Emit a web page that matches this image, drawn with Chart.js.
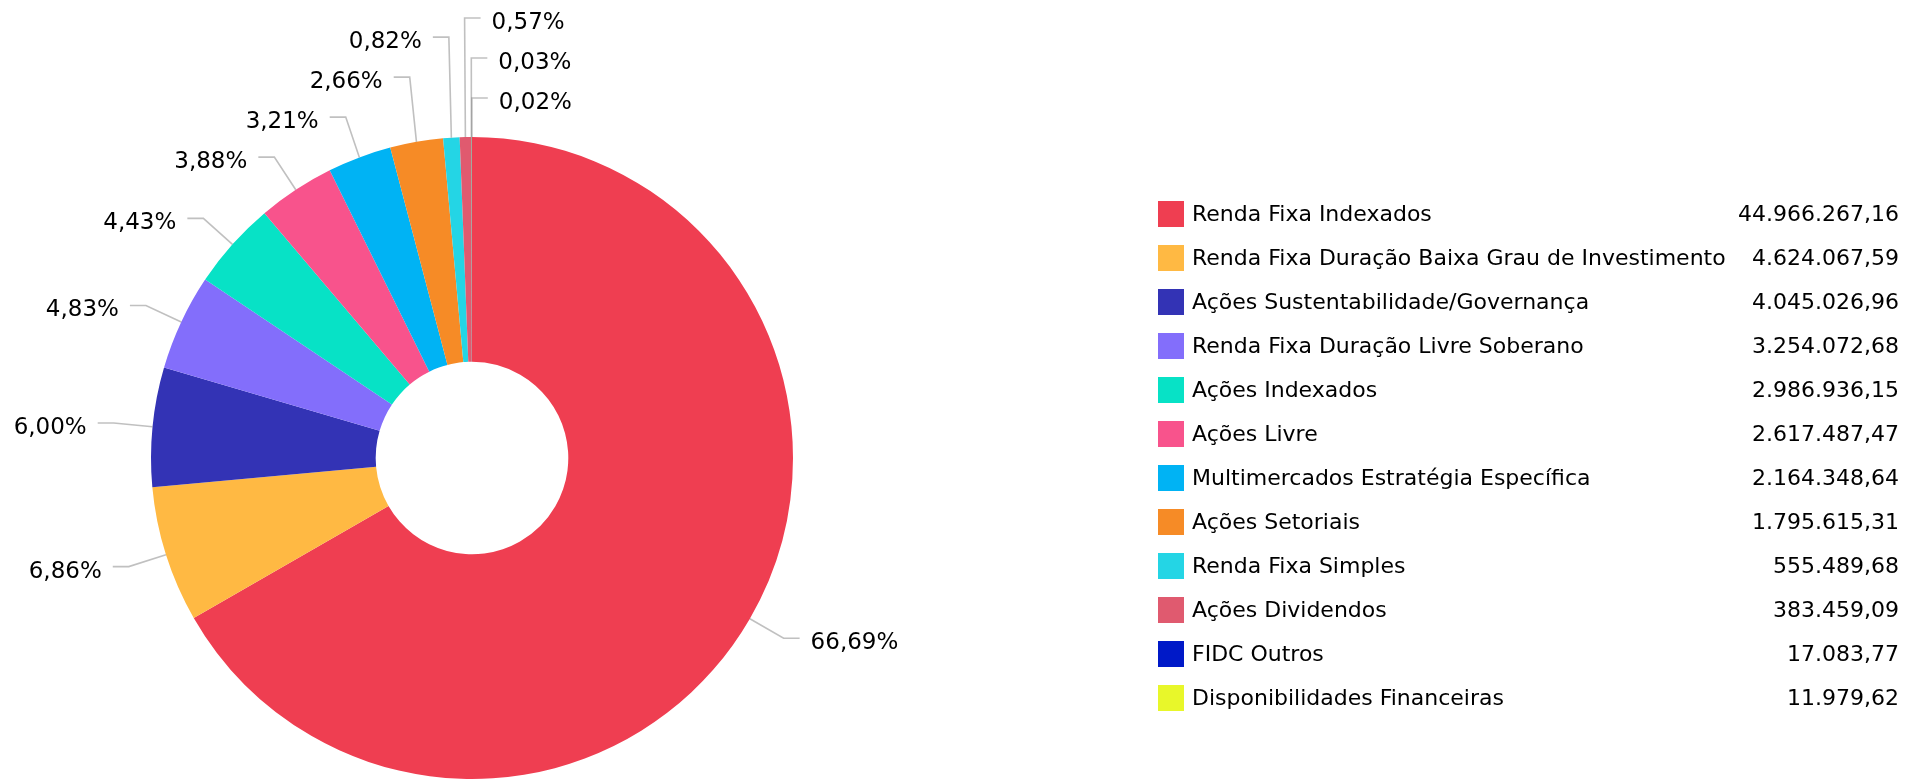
<!DOCTYPE html>
<html lang="pt-BR">
<head>
<meta charset="utf-8">
<title>Composição da carteira</title>
<script src="https://cdn.jsdelivr.net/npm/chart.js@4.4.1/dist/chart.umd.min.js"></script>
<style>
  html, body { margin: 0; padding: 0; background: #fff; }
  #wrap { width: 1928px; height: 781px; position: relative; }
</style>
</head>
<body>
<div id="wrap"><canvas id="grafico"></canvas></div>
<script>
// --- DADOS ---
const categorias = [
    "Renda Fixa Indexados",
    "Renda Fixa Duração Baixa Grau de Investimento",
    "Ações Sustentabilidade/Governança",
    "Renda Fixa Duração Livre Soberano",
    "Ações Indexados",
    "Ações Livre",
    "Multimercados Estratégia Específica",
    "Ações Setoriais",
    "Renda Fixa Simples",
    "Ações Dividendos",
    "FIDC Outros",
    "Disponibilidades Financeiras"
];
const valores = [
    44966267.16, 4624067.59, 4045026.96, 3254072.68, 2986936.15, 2617487.47,
    2164348.64, 1795615.31, 555489.68, 383459.09, 17083.77, 11979.62
];
const cores = [
    "#EF3E51", "#FFB943", "#3333B5", "#836EFB", "#07E2C6", "#F8538C",
    "#00B3F4", "#F68B26", "#24D5E5", "#E05A6F", "#0019C8", "#E8F72A"
];

// --- LAYOUT ---
const FONTE = '"DejaVu Sans", Verdana, sans-serif';
const DIST_QUEBRA = 39;     // quebra do conector, além da borda da fatia
const ESPACO_ROTULO = 40;   // distância vertical mínima entre rótulos
const PERNA = 16;           // trecho horizontal do conector
const FOLGA = 11;           // conector -> texto
const BASE_TEXTO = 11;      // linha de base do texto abaixo do conector
const VIRADA = 2 * Math.PI / 180; // fatias quase no topo vão para a direita

const LEG_X = 1158;
const LEG_TOPO = 214;
const LEG_PASSO = 44;
const LEG_DIR = 1899;

// --- UTILIDADES ---
function formatarNumero(v) {
    const [inteiro, dec] = v.toFixed(2).split('.');
    return inteiro.replace(/\B(?=(\d{3})+(?!\d))/g, '.') + ',' + dec;
}

function formatarPct(v, total) {
    return (v / total * 100).toFixed(2).replace('.', ',') + '%';
}

// empilha os rótulos de um lado, de baixo para cima
function distribuir(lista) {
    lista.sort((a, b) => a.ordem - b.ordem);
    lista.forEach(it => it.y = it.ny);
    for (let k = lista.length - 2; k >= 0; k--) {
        lista[k].y = Math.min(lista[k].y, lista[k + 1].y - ESPACO_ROTULO);
    }
}

// --- PLUGINS ---
const rotulosPlugin = {
    id: 'rotulos',
    afterDatasetsDraw(chart) {
        const ctx = chart.ctx;
        const meta = chart.getDatasetMeta(0);
        const total = valores.reduce((a, b) => a + b, 0);
        const esquerda = [], direita = [];

        meta.data.forEach((arco, i) => {
            const p = arco.getProps(['x', 'y', 'startAngle', 'endAngle', 'outerRadius'], true);
            const a = (p.startAngle + p.endAngle) / 2;
            const theta = a + Math.PI / 2; // a partir do topo, sentido horário
            const item = {
                ex: p.x + p.outerRadius * Math.cos(a),
                ey: p.y + p.outerRadius * Math.sin(a),
                nx: p.x + (p.outerRadius + DIST_QUEBRA) * Math.cos(a),
                ny: p.y + (p.outerRadius + DIST_QUEBRA) * Math.sin(a),
                texto: formatarPct(valores[i], total)
            };
            if (theta > 2 * Math.PI - VIRADA) {
                item.ordem = theta - 2 * Math.PI; item.lado = 1; direita.push(item);
            } else if (theta < Math.PI) {
                item.ordem = theta; item.lado = 1; direita.push(item);
            } else {
                item.ordem = -theta; item.lado = -1; esquerda.push(item);
            }
        });

        distribuir(esquerda);
        distribuir(direita);

        ctx.save();
        ctx.lineWidth = 1.6;
        ctx.strokeStyle = 'rgba(140,140,140,0.55)';
        ctx.font = '23px ' + FONTE;
        ctx.fillStyle = '#000';
        ctx.textBaseline = 'alphabetic';
        esquerda.concat(direita).forEach(it => {
            ctx.beginPath();
            ctx.moveTo(it.ex, it.ey);
            ctx.lineTo(it.nx, it.y);
            ctx.lineTo(it.nx + it.lado * PERNA, it.y);
            ctx.stroke();
            ctx.textAlign = it.lado > 0 ? 'left' : 'right';
            ctx.fillText(it.texto, it.nx + it.lado * (PERNA + FOLGA), it.y + BASE_TEXTO);
        });
        ctx.restore();
    }
};

const legendaPlugin = {
    id: 'legendaValores',
    afterDraw(chart) {
        const ctx = chart.ctx;
        ctx.save();
        ctx.font = '22px ' + FONTE;
        ctx.textBaseline = 'middle';
        categorias.forEach((nome, i) => {
            const y = LEG_TOPO + i * LEG_PASSO;
            ctx.fillStyle = cores[i];
            ctx.fillRect(LEG_X, y - 13, 26, 26);
            ctx.fillStyle = '#000';
            ctx.textAlign = 'left';
            ctx.fillText(nome, LEG_X + 34, y + 1);
            ctx.textAlign = 'right';
            ctx.fillText(formatarNumero(valores[i]), LEG_DIR, y + 1);
        });
        ctx.restore();
    }
};

// --- GRÁFICO ---
function inicializarGrafico() {
    const ctx = document.getElementById('grafico').getContext('2d');
    new Chart(ctx, {
        type: 'doughnut',
        data: {
            labels: categorias,
            datasets: [{ data: valores, backgroundColor: cores, borderWidth: 0 }]
        },
        options: {
            responsive: true,
            maintainAspectRatio: false,
            animation: false,
            cutout: '30%',
            layout: { padding: { left: 151, top: 137, right: 1135, bottom: 2 } },
            plugins: { legend: { display: false }, tooltip: { enabled: false } }
        },
        plugins: [rotulosPlugin, legendaPlugin]
    });
}

inicializarGrafico();
</script>
</body>
</html>
